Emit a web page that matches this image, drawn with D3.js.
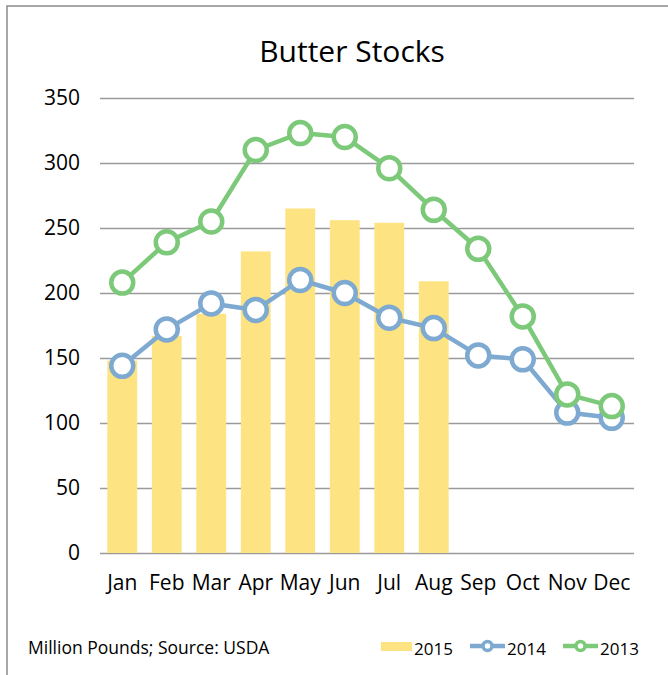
<!DOCTYPE html>
<html>
<head>
<meta charset="utf-8">
<script src="https://cdn.jsdelivr.net/npm/d3@7"></script>
<style>
  body { margin: 0; background: #fff; }
  svg { display: block; font-family: 'Open Sans', sans-serif; }
</style>
</head>
<body>
<div id="viz"></div>
<script>
const width = 668;
const height = 675;
const margin = {top: 98, right: 34, bottom: 122, left: 100};

// Data (million pounds)
const months = ['Jan', 'Feb', 'Mar', 'Apr', 'May', 'Jun', 'Jul', 'Aug', 'Sep', 'Oct', 'Nov', 'Dec'];
const stocks2015 = [148, 167, 184, 232, 265, 256, 254, 209];
const stocks2014 = [144, 172, 192, 187, 210, 200, 181, 173, 152, 149, 108, 104];
const stocks2013 = [208, 239, 255, 310, 323, 320, 296, 264, 234, 182, 122, 113];
const yTicks = [0, 50, 100, 150, 200, 250, 300, 350];

const colors = {b2015: '#fde381', l2014: '#7ea9d1', l2013: '#7dc97a'};

const svg = d3.select('#viz')
  .append('svg')
    .attr('width', width)
    .attr('height', height);

// outer frame
svg.append('rect')
  .attr('x', 7)
  .attr('y', 6)
  .attr('width', width + 10)
  .attr('height', height + 10)
  .attr('fill', '#fff')
  .attr('stroke', '#8a8a8a')
  .attr('stroke-width', 1.5);

const xScale = d3.scaleBand()
  .domain(months)
  .range([margin.left, width - margin.right])
  .paddingInner(0.33)
  .paddingOuter(0.165);

const yScale = d3.scaleLinear()
  .domain([0, 350])
  .range([height - margin.bottom, margin.top]);

const cx = d => xScale(d) + xScale.bandwidth() / 2;

// gridlines + y labels
const yAxis = svg.append('g')
  .attr('transform', `translate(${margin.left}, 0)`)
  .call(d3.axisLeft(yScale).tickValues(yTicks).tickSize(-(width - margin.left - margin.right)).tickPadding(20));
yAxis.select('.domain').remove();
yAxis.selectAll('line').attr('stroke', '#9a9a9a').attr('stroke-width', 1.5);
yAxis.selectAll('text')
  .attr('font-family', 'Open Sans, sans-serif')
  .attr('font-size', 21)
  .attr('fill', '#000');

// month labels
const xAxis = svg.append('g')
  .attr('transform', `translate(0, ${height - margin.bottom})`)
  .call(d3.axisBottom(xScale).tickSize(0).tickPadding(22));
xAxis.select('.domain').remove();
xAxis.selectAll('text')
  .attr('font-family', 'Open Sans, sans-serif')
  .attr('font-size', 21)
  .attr('fill', '#000');

// 2015 bars
svg.append('g').selectAll('rect').data(stocks2015).join('rect')
  .attr('x', (d, i) => xScale(months[i]))
  .attr('y', d => yScale(d))
  .attr('width', xScale.bandwidth())
  .attr('height', d => yScale(0) - yScale(d))
  .attr('fill', colors.b2015);

const drawLine = (values, color) => {
  const line = d3.line()
    .x((d, i) => cx(months[i]))
    .y(d => yScale(d));
  svg.append('path')
    .attr('d', line(values))
    .attr('fill', 'none')
    .attr('stroke', color)
    .attr('stroke-width', 4.5)
    .attr('stroke-linejoin', 'round');
  svg.append('g').selectAll('circle').data(values).join('circle')
    .attr('cx', (d, i) => cx(months[i]))
    .attr('cy', d => yScale(d))
    .attr('r', 11)
    .attr('fill', '#fff')
    .attr('stroke', color)
    .attr('stroke-width', 4.5);
};

drawLine(stocks2014, colors.l2014);
drawLine(stocks2013, colors.l2013);

// title
svg.append('text')
  .attr('x', 352)
  .attr('y', 62)
  .attr('text-anchor', 'middle')
  .attr('font-size', 30)
  .text('Butter Stocks');

// footnote
svg.append('text')
  .attr('x', 28)
  .attr('y', 654)
  .attr('font-size', 17.5)
  .text('Million Pounds; Source: USDA');

// legend
const legend = svg.append('g').attr('font-size', 17);
legend.append('rect')
  .attr('x', 381).attr('y', 642)
  .attr('width', 31).attr('height', 9)
  .attr('fill', colors.b2015);
legend.append('text').attr('x', 414).attr('y', 655).text('2015');

[[470, colors.l2014, '2014'], [563, colors.l2013, '2013']].forEach(([x, c, label]) => {
  legend.append('line')
    .attr('x1', x).attr('x2', x + 35)
    .attr('y1', 646).attr('y2', 646)
    .attr('stroke', c).attr('stroke-width', 4.5);
  legend.append('circle')
    .attr('cx', x + 17.5).attr('cy', 646).attr('r', 4.5)
    .attr('fill', '#fff').attr('stroke', c).attr('stroke-width', 3.5);
  legend.append('text').attr('x', x + 37).attr('y', 655).text(label);
});
</script>
</body>
</html>
